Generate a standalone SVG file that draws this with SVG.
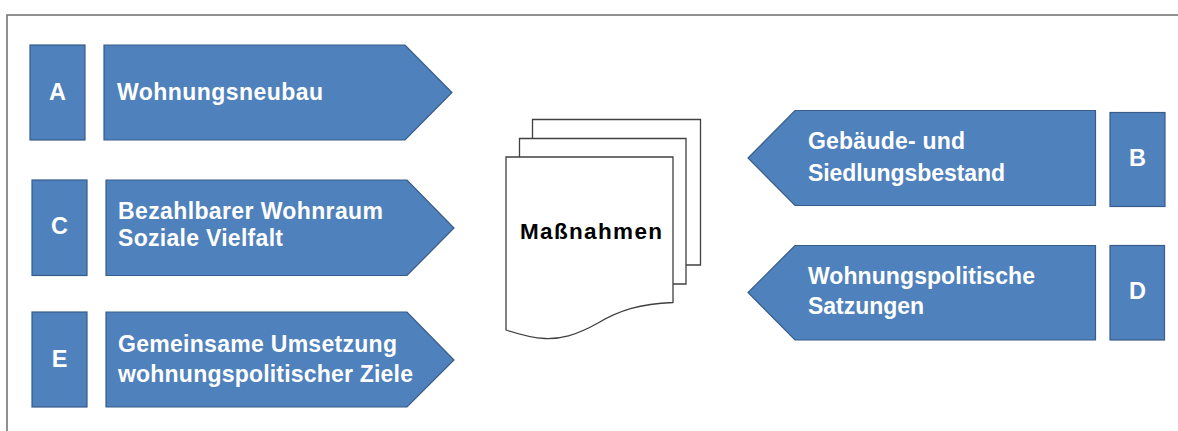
<svg xmlns="http://www.w3.org/2000/svg" width="1178" height="431" viewBox="0 0 1178 431">
<style>
.shape{fill:#4F81BD;stroke:#385D8A;stroke-width:1.2}
.lbl{font-family:"Liberation Sans",Arial,sans-serif;font-weight:bold;font-size:23px;fill:#FFFFFF}
.let{font-family:"Liberation Sans",Arial,sans-serif;font-weight:bold;font-size:23.5px;fill:#FFFFFF;text-anchor:middle}
.page{fill:#FFFFFF;stroke:#404040;stroke-width:1.3}
.doc{font-family:"Liberation Sans",Arial,sans-serif;font-weight:bold;font-size:22.5px;fill:#000000}
</style>
<rect x="7" y="15" width="1200" height="500" fill="#FFFFFF" stroke="#6E6E6E" stroke-width="1.5"/>
<g id="nodeA">
<rect class="shape" x="30" y="45" width="55" height="95"/>
<text class="let" x="57.5" y="100">A</text>
</g>
<g id="nodeA-label">
<path class="shape" d="M104,45 H405 L452,92.5 L405,140 H104 Z"/>
<text class="lbl" x="117" y="99.5" textLength="206" lengthAdjust="spacing">Wohnungsneubau</text>
</g>
<g id="nodeC">
<rect class="shape" x="32" y="180" width="55" height="95.5"/>
<text class="let" x="59.5" y="234">C</text>
</g>
<g id="nodeC-label">
<path class="shape" d="M106,180 H407 L454,228 L407,275.5 H106 Z"/>
<text class="lbl" x="118" y="218.5" textLength="265" lengthAdjust="spacing">Bezahlbarer Wohnraum</text>
<text class="lbl" x="118" y="245.5" textLength="165" lengthAdjust="spacing">Soziale Vielfalt</text>
</g>
<g id="nodeE">
<rect class="shape" x="32" y="312" width="55" height="95"/>
<text class="let" x="59.5" y="367">E</text>
</g>
<g id="nodeE-label">
<path class="shape" d="M106,312 H407 L454,360 L407,407 H106 Z"/>
<text class="lbl" x="118" y="352" textLength="279" lengthAdjust="spacing">Gemeinsame Umsetzung</text>
<text class="lbl" x="118" y="382" textLength="295" lengthAdjust="spacing">wohnungspolitischer Ziele</text>
</g>
<g id="nodeB-label">
<path class="shape" d="M1095.5,110.5 H795 L748,158 L795,205.5 H1095.5 Z"/>
<text class="lbl" x="808" y="148.5" textLength="157" lengthAdjust="spacing">Gebäude- und</text>
<text class="lbl" x="808" y="181" textLength="197" lengthAdjust="spacing">Siedlungsbestand</text>
</g>
<g id="nodeB">
<rect class="shape" x="1110" y="112.5" width="55" height="94"/>
<text class="let" x="1137.5" y="166">B</text>
</g>
<g id="nodeD-label">
<path class="shape" d="M1095.5,245.5 H795 L748,292.5 L795,340 H1095.5 Z"/>
<text class="lbl" x="808" y="283.5" textLength="227" lengthAdjust="spacing">Wohnungspolitische</text>
<text class="lbl" x="808" y="313.5" textLength="116" lengthAdjust="spacing">Satzungen</text>
</g>
<g id="nodeD">
<rect class="shape" x="1110" y="245.5" width="54.5" height="94.5"/>
<text class="let" x="1137.5" y="299">D</text>
</g>
<g id="nodeMassnahmen">
<path class="page" d="M532.5,138.5 V119.5 H700.5 V265 H686"/>
<path class="page" d="M519.5,157 V138.5 H686 V284 H673"/>
<path class="page" d="M506,330 V157 H673 V302.5 C640,304 620,310 598,323 C575,336 560,339 545,338.5 C530,338 518,334 506,330 Z"/>
<text class="doc" x="520" y="238.5" textLength="142" lengthAdjust="spacing">Maßnahmen</text>
</g>
<g id="connectors"></g>
</svg>
